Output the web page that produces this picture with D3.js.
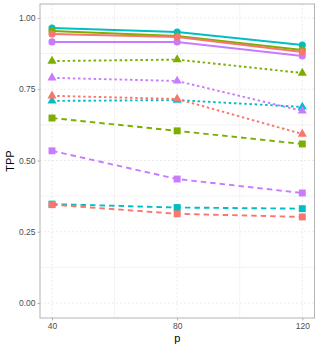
<!DOCTYPE html>
<html>
<head>
<meta charset="utf-8">
<script src="https://cdn.jsdelivr.net/npm/d3@7"></script>
<style>
  body { margin: 0; background: #fff; }
  text { font-family: "Liberation Sans", Arial, sans-serif; }
</style>
</head>
<body>
<div id="chart"></div>
<script>
// data
const pValues = [40, 80, 120];
const yTicks = [0, 0.25, 0.5, 0.75, 1];
const yMinor = [0.125, 0.375, 0.625, 0.875];
const xMinor = [60, 100];

const colors = ["#F8766D", "#7CAE00", "#00BFC4", "#C77CFF"];

// solid lines + circles
const solidRed = [0.944, 0.933, 0.881];
const solidGreen = [0.954, 0.937, 0.888];
const solidCyan = [0.965, 0.951, 0.905];
const solidPurple = [0.916, 0.916, 0.867];

// dotted lines + triangles
const dotRed = [0.727, 0.716, 0.593];
const dotGreen = [0.849, 0.854, 0.807];
const dotCyan = [0.709, 0.712, 0.688];
const dotPurple = [0.790, 0.779, 0.674];

// dashed lines + squares
const dashRed = [0.345, 0.313, 0.302];
const dashGreen = [0.649, 0.604, 0.558];
const dashCyan = [0.347, 0.335, 0.331];
const dashPurple = [0.534, 0.435, 0.386];

const series = [
  { vals: dashCyan, col: colors[2], type: "dash" },
  { vals: dashGreen, col: colors[1], type: "dash" },
  { vals: dashPurple, col: colors[3], type: "dash" },
  { vals: dashRed, col: colors[0], type: "dash" },
  { vals: dotCyan, col: colors[2], type: "dot" },
  { vals: dotGreen, col: colors[1], type: "dot" },
  { vals: dotPurple, col: colors[3], type: "dot" },
  { vals: dotRed, col: colors[0], type: "dot" },
  { vals: solidCyan, col: colors[2], type: "solid" },
  { vals: solidGreen, col: colors[1], type: "solid" },
  { vals: solidPurple, col: colors[3], type: "solid" },
  { vals: solidRed, col: colors[0], type: "solid" },
];

////////////////////////////  Init  ///////////////////////////////
const width = 319, height = 348;
const panel = { left: 40, right: 314.5, top: 4, bottom: 318 };

const svg = d3.select("#chart").append("svg")
  .attr("width", width).attr("height", height);

const x = d3.scaleLinear().domain([40, 120]).range([52, 302.3]);
const y = d3.scaleLinear().domain([0, 1]).range([303, 18]);

// grid
const grid = svg.append("g");
grid.selectAll(".ymin").data(yMinor).enter().append("line")
  .attr("x1", panel.left).attr("x2", panel.right)
  .attr("y1", d => y(d)).attr("y2", d => y(d))
  .attr("stroke", "#ebebeb").attr("stroke-width", 0.6);
grid.selectAll(".xmin").data(xMinor).enter().append("line")
  .attr("y1", panel.top).attr("y2", panel.bottom)
  .attr("x1", d => x(d)).attr("x2", d => x(d))
  .attr("stroke", "#ebebeb").attr("stroke-width", 0.6);
grid.selectAll(".ymaj").data(yTicks).enter().append("line")
  .attr("x1", panel.left).attr("x2", panel.right)
  .attr("y1", d => y(d)).attr("y2", d => y(d))
  .attr("stroke", "#dedede").attr("stroke-width", 0.6)
  .attr("stroke-dasharray", "2,2");
grid.selectAll(".xmaj").data(pValues).enter().append("line")
  .attr("y1", panel.top).attr("y2", panel.bottom)
  .attr("x1", d => x(d)).attr("x2", d => x(d))
  .attr("stroke", "#dedede").attr("stroke-width", 0.6)
  .attr("stroke-dasharray", "2,2");

// panel border
svg.append("rect")
  .attr("x", panel.left).attr("y", panel.top)
  .attr("width", panel.right - panel.left)
  .attr("height", panel.bottom - panel.top)
  .attr("fill", "none").attr("stroke", "#b3b3b3").attr("stroke-width", 1);

// axes
const yAxis = svg.append("g")
  .attr("transform", `translate(${panel.left},0)`)
  .call(d3.axisLeft(y).tickValues(yTicks).tickFormat(d3.format(".2f")).tickSize(2.5).tickPadding(2));
const xAxis = svg.append("g")
  .attr("transform", `translate(0,${panel.bottom})`)
  .call(d3.axisBottom(x).tickValues(pValues).tickSize(2.5).tickPadding(2));
[xAxis, yAxis].forEach(a => {
  a.select(".domain").remove();
  a.selectAll(".tick line").attr("stroke", "#b3b3b3");
  a.selectAll(".tick text").attr("fill", "#4d4d4d")
    .style("font-size", "8.5px").style("font-family", "Liberation Sans, Arial, sans-serif");
});

svg.append("text")
  .attr("x", (panel.left + panel.right) / 2).attr("y", 342)
  .attr("text-anchor", "middle").style("font-size", "11px").text("p");
svg.append("text")
  .attr("transform", `translate(14,${(panel.top + panel.bottom) / 2}) rotate(-90)`)
  .attr("text-anchor", "middle").style("font-size", "11px").text("TPP");

// lines
const line = d3.line().x((d, i) => x(pValues[i])).y(d => y(d));
const dashes = { solid: null, dot: "2.5,2.7", dash: "5.5,4" };

const g = svg.append("g");
series.forEach(s => {
  g.append("path").datum(s.vals)
    .attr("d", line)
    .attr("fill", "none")
    .attr("stroke", s.col)
    .attr("stroke-width", s.type === "solid" ? 2 : 1.9)
    .attr("stroke-dasharray", dashes[s.type]);
});

// points
const sym = { solid: d3.symbolCircle, dot: d3.symbolTriangle, dash: d3.symbolSquare };
const symSize = { solid: 40, dot: 36, dash: 48 };
series.forEach(s => {
  g.selectAll(null).data(s.vals).enter().append("path")
    .attr("d", d3.symbol().type(sym[s.type]).size(symSize[s.type]))
    .attr("transform", (d, i) => `translate(${x(pValues[i])},${y(d)})`)
    .attr("fill", s.col);
});
</script>
</body>
</html>
